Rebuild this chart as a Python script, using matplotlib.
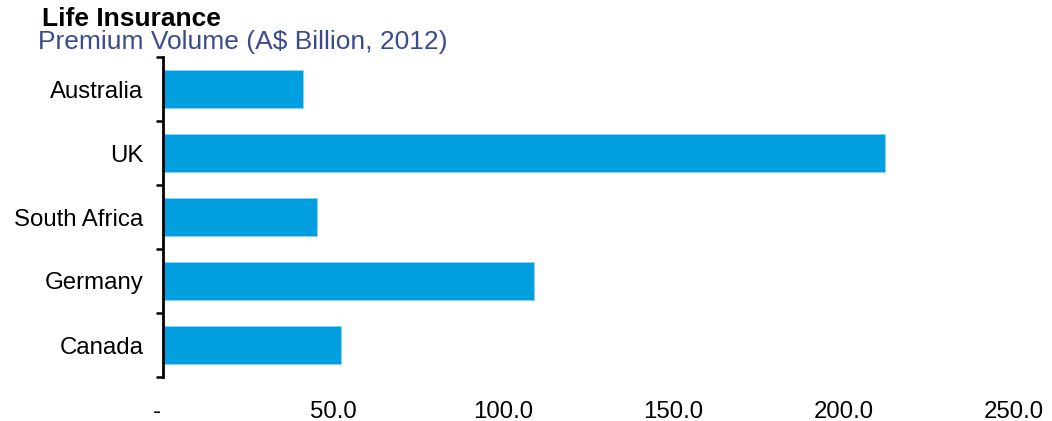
import numpy as np
import matplotlib
matplotlib.use("Agg")
import matplotlib.pyplot as plt
import matplotlib.transforms as mtransforms

plt.rcParams['font.family'] = ['Liberation Sans', 'DejaVu Sans']

# data
countries = ['Australia', 'UK', 'South Africa', 'Germany', 'Canada']
premiums = [41.2, 212.0, 45.3, 109.0, 52.4]
xticks = [0, 50, 100, 150, 200, 250]
xtick_labels = ['-', '50.0', '100.0', '150.0', '200.0', '250.0']

bar_color = '#009FDF'
sub_color = '#3C4B8E'

fig = plt.figure(figsize=(10.52, 4.21), dpi=100)
ax = fig.add_axes([163 / 1052, 1 - 377 / 421, (1014 - 163) / 1052, 320 / 421])

y = np.arange(len(countries))
ax.barh(y, premiums, height=0.58, color=bar_color, edgecolor='#8FD3F0', linewidth=0.6)

ax.set_ylim(len(countries) - 0.5, -0.5)
ax.set_xlim(0, 250)

# category labels at centres, tick marks at boundaries
ax.set_yticks(y)
ax.set_yticklabels(countries, fontsize=17.3)
ax.set_yticks(np.arange(-0.5, len(countries)), minor=True)
ax.tick_params(axis='y', which='major', length=0, pad=14)
ax.tick_params(axis='y', which='minor', length=5, width=1.8, color='black')

ax.set_xticks(xticks)
ax.set_xticklabels(xtick_labels, fontsize=17.3)
ax.tick_params(axis='x', length=0, pad=17)

# the zero dash sits a little left of the axis in the original
dash = ax.get_xticklabels()[0]
dash.set_transform(dash.get_transform() +
                   mtransforms.ScaledTranslation(-6 / 100, 0, fig.dpi_scale_trans))

for side in ['top', 'right', 'bottom']:
    ax.spines[side].set_visible(False)
ax.spines['left'].set_linewidth(2)

fig.text(42 / 1052, 1 - 26 / 421, 'Life Insurance', fontsize=19, fontweight='bold',
         color='black', ha='left', va='baseline')
fig.text(38 / 1052, 1 - 49 / 421, 'Premium Volume (A$ Billion, 2012)', fontsize=19,
         color=sub_color, ha='left', va='baseline')

fig.savefig('out.png', dpi=100)
